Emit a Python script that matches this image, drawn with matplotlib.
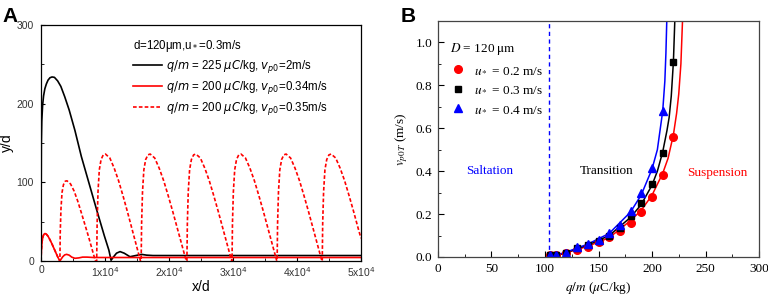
import matplotlib

matplotlib.use("Agg")
import matplotlib.pyplot as plt
from matplotlib.font_manager import FontProperties
from matplotlib.lines import Line2D
from matplotlib.ticker import MultipleLocator, FixedLocator

# ---- panel A: particle trajectories (x/d, y/d) ----
black_x = [0, 20, 50, 120, 250, 400, 600, 830, 1100, 1400, 1720, 2100, 2600, 3100, 3700,
           4400, 5300, 6300, 7500, 8700, 9900, 10600, 10950, 11300, 11800, 12350, 13000,
           13900, 14800, 15700, 16500, 17500, 19000, 21000, 50000]
black_y = [0, 80, 150, 178, 198, 210, 219, 225, 230, 233, 234, 233.5, 229, 222, 209,
           192, 166, 133, 99, 65, 32, 14, 1, 5, 10, 12, 10,
           5.5, 7, 8.5, 7.5, 7, 7, 7, 7]

red_x = [0, 50, 150, 300, 450, 625, 850, 1100, 1400, 1700, 2000, 2300, 2600, 2850, 2970,
         3100, 3400, 3700, 4000, 4400, 4800, 5300, 5900, 6500, 7200, 8000, 9000, 10000, 50000]
red_y = [0, 12, 24, 31, 34, 35, 34, 31.5, 27, 22, 16.5, 11, 5.5, 1.5, 0,
         2, 5.5, 7.8, 8.5, 7.5, 5, 3.5, 4, 5, 5, 4.6, 4.5, 4.5, 4.5]

dash_x = [0, 50, 150, 300, 450, 625, 850, 1100, 1400, 1700, 2000, 2300, 2600, 2850,
          2950, 3005, 3117, 3283, 3505, 3783, 4060, 4615, 5170, 5725, 6280, 6835, 7390, 7945, 8500,
          8700, 8769, 8906, 9111, 9385, 9728, 10070, 10755, 11440, 12125, 12810, 13495, 14180, 14865, 15550,
          15650, 15720, 15862, 16073, 16355, 16708, 17060, 17765, 18470, 19175, 19880, 20585, 21290, 21995, 22700,
          22800, 22870, 23010, 23220, 23500, 23850, 24200, 24900, 25600, 26300, 27000, 27700, 28400, 29100, 29800,
          29850, 29920, 30060, 30270, 30550, 30900, 31250, 31950, 32650, 33350, 34050, 34750, 35450, 36150, 36850,
          36900, 36970, 37110, 37320, 37600, 37950, 38300, 39000, 39700, 40400, 41100, 41800, 42500, 43200, 43900,
          43950, 44020, 44160, 44370, 44650, 45000, 45350, 46050, 46750, 47450, 48150, 48850, 49550, 50000]
dash_y = [0, 12, 24, 31, 34, 35, 34, 31.5, 27, 22, 16.5, 11, 5.5, 1.5,
          0, 36, 66, 87, 97, 101.5, 102, 98, 89, 76.5, 62, 47, 32, 16, 0,
          0, 48, 88, 116, 129, 135, 136, 131, 118, 102, 83, 63, 42, 21, 0,
          0, 48, 88, 116, 129, 135, 136, 131, 118, 102, 83, 63, 42, 21, 0,
          0, 48, 88, 116, 129, 135, 136, 131, 118, 102, 83, 63, 42, 21, 0,
          0, 48, 88, 116, 129, 135, 136, 131, 118, 102, 83, 63, 42, 21, 0,
          0, 48, 88, 116, 129, 135, 136, 131, 118, 102, 83, 63, 42, 21, 0,
          0, 48, 88, 116, 129, 135, 136, 131, 118, 102, 83, 63, 42, 29]

a_xticks = [0, 10000, 20000, 30000, 40000, 50000]
a_xticklabels = ["0", "1x10$^4$", "2x10$^4$", "3x10$^4$", "4x10$^4$", "5x10$^4$"]
a_yticks = [0, 100, 200, 300]

# ---- panel B: critical lift-off velocity vs q/m ----
qm_red = [105, 110, 120, 130, 140, 150, 160, 170, 180, 190, 200, 210, 220]
v_red = [0.01, 0.01, 0.02, 0.033, 0.048, 0.071, 0.092, 0.123, 0.16, 0.211, 0.278, 0.381, 0.561]
qm_black = [105, 110, 120, 130, 140, 150, 160, 170, 180, 190, 200, 210, 220]
v_black = [0.01, 0.01, 0.02, 0.04, 0.055, 0.075, 0.1, 0.135, 0.191, 0.25, 0.34, 0.486, 0.91]
qm_blue = [105, 110, 120, 130, 140, 150, 160, 170, 180, 190, 200, 210]
v_blue = [0.01, 0.01, 0.02, 0.045, 0.06, 0.08, 0.11, 0.15, 0.214, 0.297, 0.413, 0.682]

fit_red_x = [105, 110, 120, 140, 160, 180, 190, 200, 210, 215, 220, 223, 225, 227, 228.5]
fit_red_y = [0, 0.006, 0.02, 0.05, 0.09, 0.17, 0.218, 0.288, 0.39, 0.46, 0.57, 0.67, 0.76, 0.9, 1.1]
fit_black_x = [105, 110, 120, 140, 160, 180, 190, 200, 205, 210, 214, 216, 218, 220, 221.3]
fit_black_y = [0, 0.007, 0.021, 0.056, 0.1, 0.185, 0.245, 0.335, 0.4, 0.49, 0.59, 0.65, 0.75, 0.91, 1.1]
fit_blue_x = [105, 110, 120, 140, 160, 180, 190, 200, 205, 210, 212, 213, 213.8]
fit_blue_y = [0, 0.008, 0.023, 0.06, 0.11, 0.21, 0.29, 0.41, 0.5, 0.68, 0.82, 0.95, 1.1]

qm_boundary = 104
regions = ["Saltation", "Transition", "Suspension"]
region_x = [48, 158, 261]
region_y = [0.4, 0.4, 0.39]
region_colors = ["blue", "black", "red"]

sans = "Liberation Sans"
serif = "Liberation Serif"

fig = plt.figure(figsize=(7.68, 2.98), dpi=100, facecolor="white")

# panel A
axA = fig.add_axes([0.0534, 0.124, 0.4166, 0.792])
axA.plot(black_x, black_y, color="black", lw=1.2)
axA.plot(red_x, red_y, color="red", lw=1.2)
axA.plot(dash_x, dash_y, color="red", lw=1.2, ls=(0, (2.2, 1.3)))
axA.set_xlim(0, 50000)
axA.set_ylim(0, 300)
axA.xaxis.set_major_locator(FixedLocator(a_xticks))
axA.set_xticklabels(a_xticklabels)
axA.xaxis.set_minor_locator(MultipleLocator(5000))
axA.yaxis.set_major_locator(FixedLocator(a_yticks))
axA.yaxis.set_minor_locator(MultipleLocator(50))
axA.tick_params(which="both", direction="in", top=False, right=False, labelsize=7.5)
axA.tick_params(axis="x", pad=3)
axA.tick_params(axis="y", pad=5)
axA.tick_params(which="major", length=3)
axA.tick_params(which="minor", length=2)
for lab in axA.get_xticklabels() + axA.get_yticklabels():
    lab.set_fontfamily(sans)
    lab.set_color("#333333")
axA.set_xlabel("x/d", fontsize=10, family=sans, labelpad=1)
axA.set_ylabel("y/d", fontsize=10, family=sans, labelpad=2)
for s in axA.spines.values():
    s.set_linewidth(0.9)

a_handles = [
    Line2D([], [], color="black", lw=1.2),
    Line2D([], [], color="red", lw=1.2),
    Line2D([], [], color="red", lw=1.2, ls=(0, (2.2, 1.3))),
]
a_labels = [
    r"$q/m$ = 225 $\mu C$/kg, $v_{p0}$=2m/s",
    r"$q/m$ = 200 $\mu C$/kg, $v_{p0}$=0.34m/s",
    r"$q/m$ = 200 $\mu C$/kg, $v_{p0}$=0.35m/s",
]
propA = FontProperties(family=sans, size=8.3, math_fontfamily="dejavusans")
legA = axA.legend(a_handles, a_labels, prop=propA, frameon=False, loc="upper left",
                  bbox_to_anchor=(0.255, 0.99), handlelength=2.5, handletextpad=0.4,
                  labelspacing=0.35, title="d=120\u03bcm,u$_*$=0.3m/s",
                  title_fontproperties=propA, alignment="left")
fig.text(0.003, 0.975, "A", fontsize=15, fontweight="bold", family=sans, va="top")

# panel B
axB = fig.add_axes([0.5703, 0.1376, 0.418, 0.7919])
axB.axvline(qm_boundary, color="blue", lw=1, ls=(0, (3, 2.5)))
axB.plot(fit_red_x, fit_red_y, color="red", lw=1.1)
axB.plot(fit_black_x, fit_black_y, color="black", lw=1.1)
axB.plot(fit_blue_x, fit_blue_y, color="blue", lw=1.1)
h_red, = axB.plot(qm_red, v_red, "o", color="red", ms=5.5, ls="none")
h_black, = axB.plot(qm_black, v_black, "s", color="black", ms=5, ls="none")
h_blue, = axB.plot(qm_blue, v_blue, "^", color="blue", ms=5.5, ls="none")
axB.set_xlim(0, 300)
axB.set_ylim(0, 1.1)
axB.xaxis.set_major_locator(MultipleLocator(50))
axB.xaxis.set_minor_locator(MultipleLocator(25))
axB.yaxis.set_major_locator(MultipleLocator(0.2))
axB.yaxis.set_minor_locator(MultipleLocator(0.1))
axB.yaxis.set_major_formatter(matplotlib.ticker.FormatStrFormatter("%.1f"))
axB.tick_params(which="both", direction="in", top=False, right=False, labelsize=9.5, pad=4)
axB.tick_params(which="major", length=4)
axB.tick_params(which="minor", length=2.5)
for lab in axB.get_xticklabels() + axB.get_yticklabels():
    lab.set_fontfamily(serif)
for s in axB.spines.values():
    s.set_linewidth(0.9)
    s.set_color("#444444")
axB.set_xlabel(r"$q/m$ ($\mu$C/kg)", fontsize=9.5, family=serif, math_fontfamily="stix", labelpad=4)
axB.set_ylabel(r"$v_{p0T}$ (m/s)", fontsize=9.5, family=serif, math_fontfamily="stix", labelpad=4)
for name, x, y, c in zip(regions, region_x, region_y, region_colors):
    axB.text(x, y, name, color=c, fontsize=9.5, family=serif, ha="center", va="center")

propB = FontProperties(family=serif, size=9.5, math_fontfamily="stix")
legB = axB.legend([h_red, h_black, h_blue],
                  [r"$u_*$ = 0.2 m/s", r"$u_*$ = 0.3 m/s", r"$u_*$ = 0.4 m/s"],
                  prop=propB, frameon=False, loc="upper left", bbox_to_anchor=(0.0, 0.965),
                  handlelength=1.2, handletextpad=0.6, labelspacing=0.55,
                  title=r"$D$ = 120 $\mathrm{\mu m}$", title_fontproperties=propB, alignment="left")
fig.text(0.522, 0.975, "B", fontsize=15, fontweight="bold", family=sans, va="top")

fig.savefig("out.png", dpi=100, facecolor="white")
